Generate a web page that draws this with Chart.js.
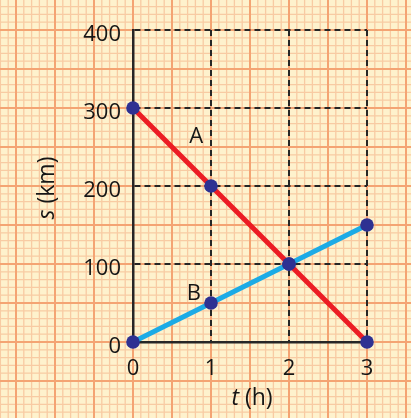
<!DOCTYPE html>
<html>
<head>
<meta charset="utf-8">
<script src="https://cdn.jsdelivr.net/npm/chart.js@4/dist/chart.umd.min.js"></script>
<style>
html,body{margin:0;padding:0;background:#FEF2CD;}
#wrap{width:411px;height:418px;position:relative;}
</style>
</head>
<body>
<div id="wrap"><canvas id="c" width="411" height="418"></canvas></div>
<script>
// ---- data ----
const timeValues = [0, 1, 2, 3];          // t (h)
const seriesA = [300, 200, 100, 0];       // s (km), line A
const seriesB = [0, 50, 100, 150];        // s (km), line B
const yTicks = [0, 100, 200, 300, 400];
const xTicks = [0, 1, 2, 3];
const lineLabels = ['A', 'B'];
const lineLabelT = [0.81, 0.78];
const lineLabelS = [263, 62];
const xTitleVar = 't', xTitleUnit = ' (h)';
const yTitleVar = 's', yTitleUnit = ' (km)';

const FONT = '"Open Sans", "Noto Sans", sans-serif';
const FS = 22;
const TFS = 23;

const paperPlugin = {
  id: 'paper',
  beforeDraw(chart) {
    const ctx = chart.ctx, xs = chart.scales.x, ys = chart.scales.y;
    const W = chart.width, H = chart.height;
    ctx.save();
    ctx.fillStyle = '#FEF2CD';
    ctx.fillRect(0, 0, W, H);
    const x0 = xs.getPixelForValue(0), dx = (xs.getPixelForValue(1) - x0) / 10;
    const y0 = ys.getPixelForValue(0), dy = (ys.getPixelForValue(100) - y0) / 10;
    const drawSet = (major) => {
      ctx.beginPath();
      for (let i = -60; i <= 60; i++) {
        const isMajor = (i % 5 === 0);
        if (isMajor !== major) continue;
        const x = x0 + i * dx;
        if (x >= -2 && x <= W + 2) { ctx.moveTo(x, 0); ctx.lineTo(x, H); }
        const y = y0 + i * dy;
        if (y >= -2 && y <= H + 2) { ctx.moveTo(0, y); ctx.lineTo(W, y); }
      }
      ctx.stroke();
    };
    ctx.strokeStyle = '#F8CBA3';
    ctx.lineWidth = 1.3;
    drawSet(false);
    ctx.strokeStyle = '#F4A473';
    ctx.lineWidth = 2;
    drawSet(true);
    ctx.restore();
  }
};

function drawMixed(ctx, parts, cx, cy) {
  let total = 0;
  parts.forEach(p => { ctx.font = p.font; p.w = ctx.measureText(p.text).width; total += p.w; });
  let x = cx - total / 2;
  ctx.textAlign = 'left';
  ctx.textBaseline = 'middle';
  parts.forEach(p => { ctx.font = p.font; ctx.fillText(p.text, x, cy); x += p.w; });
}

const textPlugin = {
  id: 'texts',
  afterDraw(chart) {
    const ctx = chart.ctx, xs = chart.scales.x, ys = chart.scales.y, ca = chart.chartArea;
    ctx.save();
    ctx.fillStyle = '#161616';
    ctx.font = '500 ' + FS + 'px ' + FONT;
    ctx.textAlign = 'center';
    ctx.textBaseline = 'middle';
    lineLabels.forEach((l, i) => {
      ctx.fillText(l, xs.getPixelForValue(lineLabelT[i]), ys.getPixelForValue(lineLabelS[i]));
    });
    // x title
    drawMixed(ctx, [
      {text: xTitleVar, font: 'italic 500 ' + TFS + 'px ' + FONT},
      {text: xTitleUnit, font: '500 ' + TFS + 'px ' + FONT}
    ], (ca.left + ca.right) / 2 + 2, 398);
    // y title
    ctx.translate(47, (ca.top + ca.bottom) / 2 + 2);
    ctx.rotate(-Math.PI / 2);
    drawMixed(ctx, [
      {text: yTitleVar, font: 'italic 500 ' + TFS + 'px ' + FONT},
      {text: yTitleUnit, font: '500 ' + TFS + 'px ' + FONT}
    ], 0, 0);
    ctx.restore();
  }
};

const mkData = (vals) => timeValues.map((t, i) => ({x: t, y: vals[i]}));
const gridColor = (ctx) => (ctx.tick && ctx.tick.value === 0) ? 'rgba(0,0,0,0)' : '#262626';

new Chart(document.getElementById('c'), {
  type: 'line',
  data: {
    datasets: [
      {label: 'A', data: mkData(seriesA), borderColor: '#EC1C24', borderWidth: 5,
       pointBackgroundColor: '#2E3192', pointBorderWidth: 0, pointRadius: 6.8, clip: false, order: 1},
      {label: 'B', data: mkData(seriesB), borderColor: '#1CABE6', borderWidth: 5,
       pointBackgroundColor: '#2E3192', pointBorderWidth: 0, pointRadius: 6.8, clip: false, order: 2}
    ]
  },
  options: {
    responsive: false,
    animation: false,
    devicePixelRatio: 1,
    layout: {padding: {left: 0, top: 30, right: 44, bottom: 0}},
    plugins: {legend: {display: false}, tooltip: {enabled: false}},
    scales: {
      x: {
        type: 'linear', min: 0, max: 3,
        afterFit(s) { s.height = 76; },
        afterBuildTicks(s) { s.ticks = xTicks.map(v => ({value: v})); },
        grid: {color: gridColor, lineWidth: 2, drawTicks: false},
        border: {display: true, color: '#262626', width: 2.5, dash: [6, 4]},
        ticks: {padding: 14, color: '#161616', font: {family: FONT, size: FS, weight: 500}}
      },
      y: {
        type: 'linear', min: 0, max: 400,
        afterFit(s) { s.width = 133; },
        afterBuildTicks(s) { s.ticks = yTicks.map(v => ({value: v})); },
        grid: {color: gridColor, lineWidth: 2, drawTicks: false},
        border: {display: true, color: '#262626', width: 2.5, dash: [6, 4]},
        ticks: {padding: 12, labelOffset: 5, color: '#161616', font: {family: FONT, size: FS, weight: 500}}
      }
    }
  },
  plugins: [paperPlugin, textPlugin]
});
</script>
</body>
</html>
